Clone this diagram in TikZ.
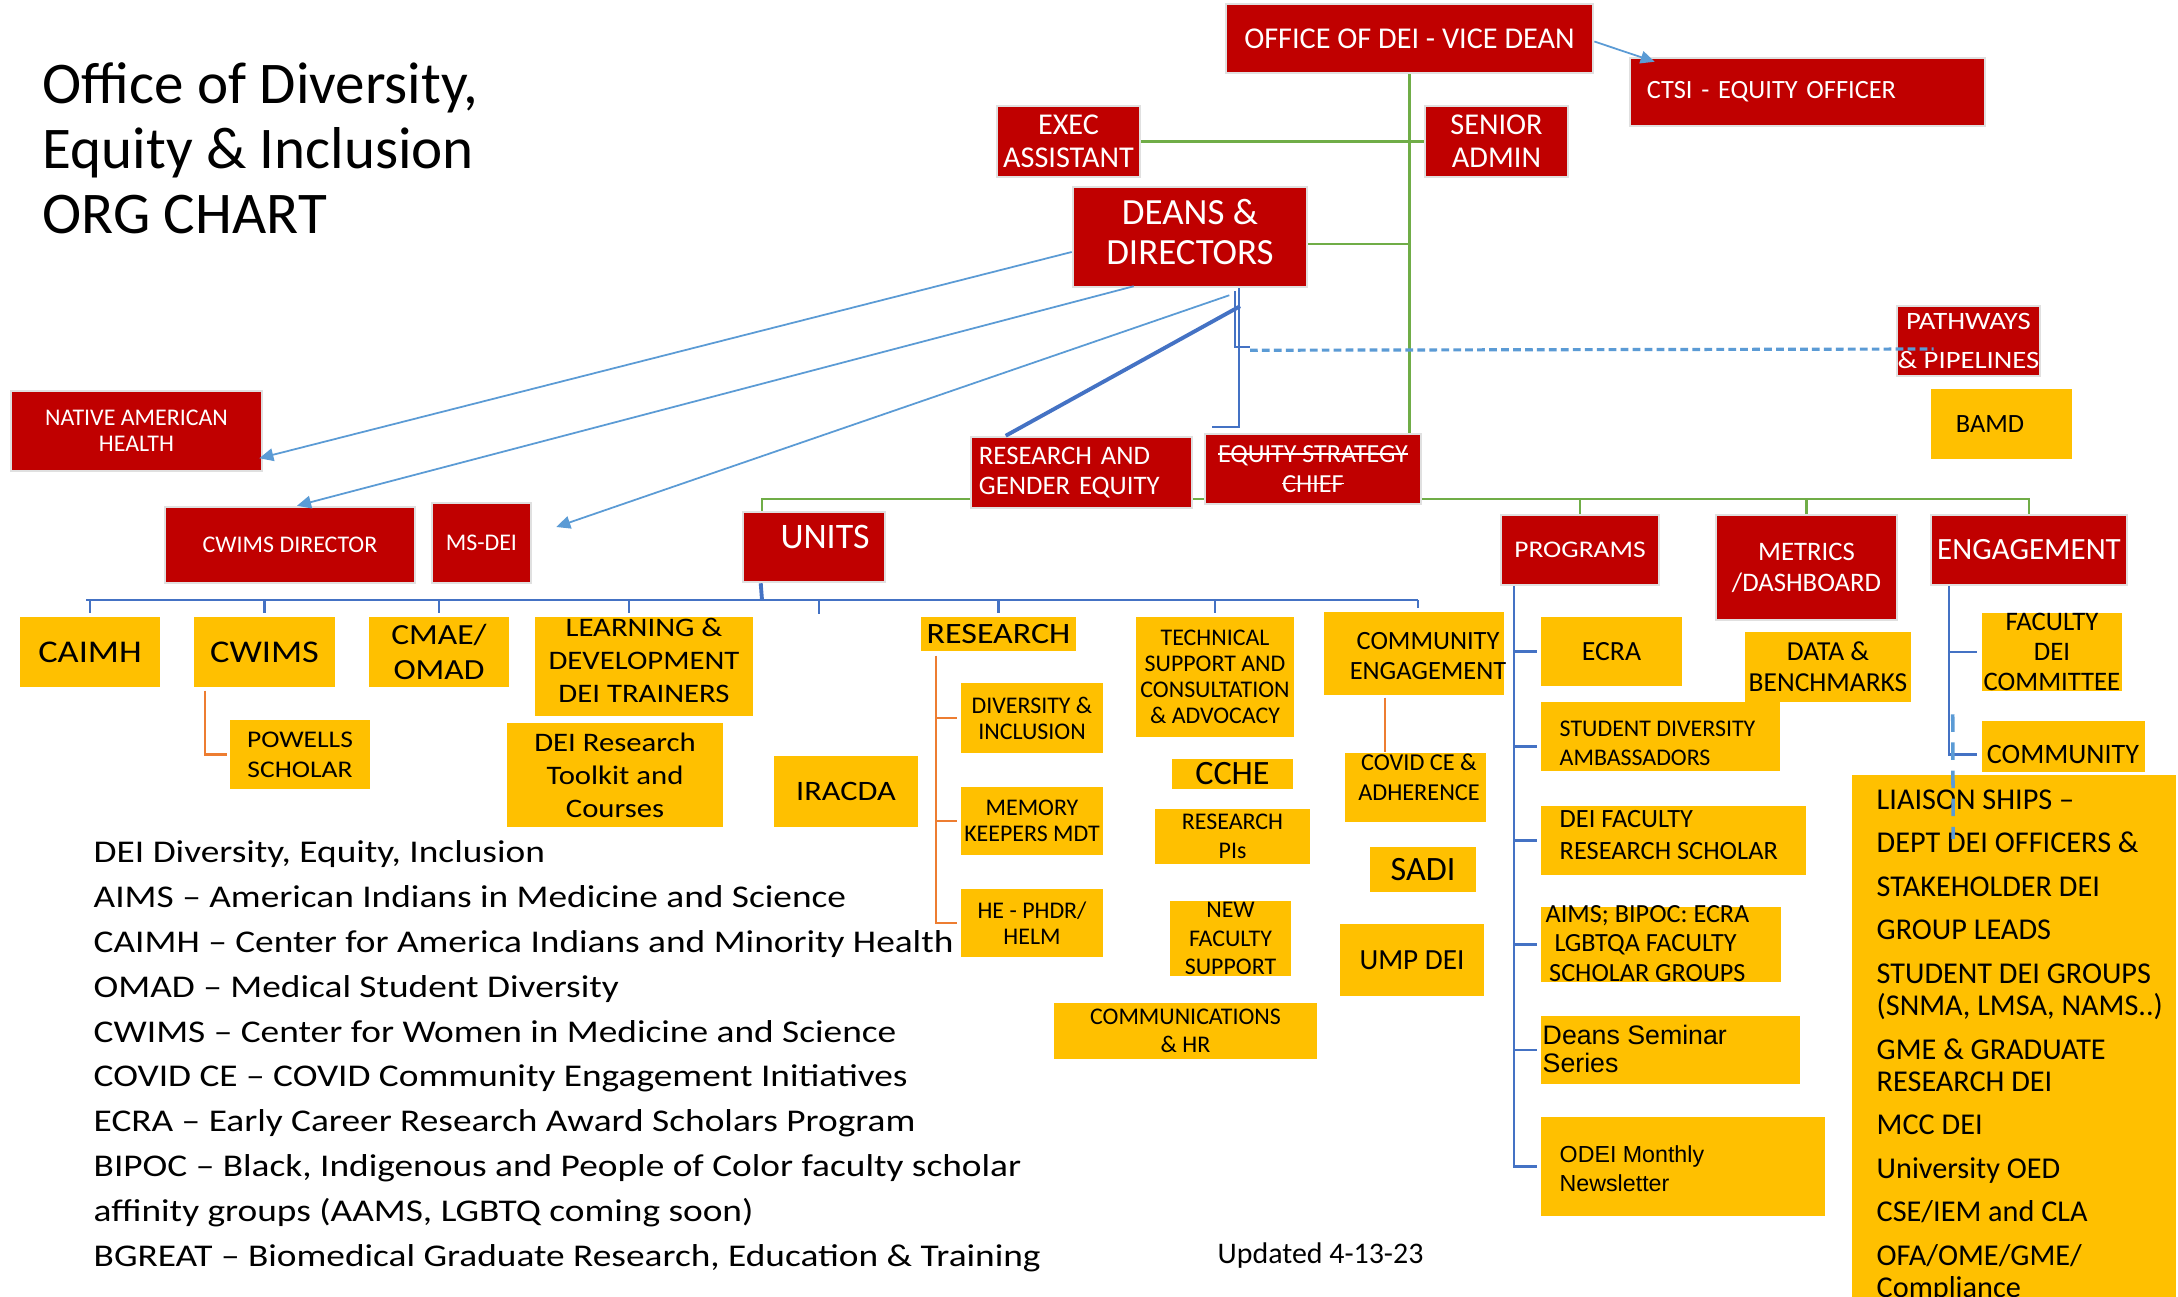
\documentclass[tikz,border=0pt]{standalone}
\usepackage{fontspec}
\setmainfont{Carlito}
\newfontfamily\arialf{Liberation Sans}
\newfontfamily\widefont[FakeStretch=1.15]{Carlito}
\newfontfamily\legfont[FakeStretch=1.18]{Carlito}
\newcommand\strk[1]{\setbox0\hbox{#1}\rlap{\rule[0.3em]{\wd0}{0.45pt}}\box0}
\usetikzlibrary{arrows.meta,calc}
\definecolor{dred}{HTML}{C00000}
\definecolor{gold}{HTML}{FFC000}
\definecolor{gline}{HTML}{70AD47}
\definecolor{dblue}{HTML}{4472C4}
\definecolor{lblue}{HTML}{5B9BD5}
\definecolor{oline}{HTML}{ED7D31}
\pgfdeclarelayer{bg}
\pgfsetlayers{bg,main}
\begin{document}
\begin{tikzpicture}[x=0.01cm,y=-0.01cm,
 redbox/.style={fill=dred, draw=black!12, line width=0.7pt, text=white, align=center, inner sep=0pt},
 yelbox/.style={fill=gold, draw=none, text=black, align=center, inner sep=0pt},
 pos box/.style n args={4}{at={({(#1+#3)/2},{(#2+#4)/2})}, minimum width={(#3-#1)*0.28453pt}, minimum height={(#4-#2)*0.28453pt}},
 fs/.style 2 args={font=\fontsize{#1}{#2}\selectfont},
 wfs/.style 2 args={font=\widefont\fontsize{#1}{#2}\selectfont},
 grn/.style={draw=gline, line width=0.7pt},
 blu/.style={draw=dblue, line width=0.7pt},
 org/.style={draw=oline, line width=0.7pt},
 arr/.style={draw=lblue, line width=0.5pt, -{Triangle[length=4pt,width=3.6pt]}},
 txt/.style={inner sep=0pt, align=center},
 ltxt/.style={inner sep=0pt, align=left, anchor=west},
]
\useasboundingbox (0,0) rectangle (2178,1297);
\begin{pgfonlayer}{bg}
\fill[white] (0,0) rectangle (2178,1297);
\end{pgfonlayer}

% title
\node[anchor=north west, inner sep=0pt, align=left, fs={16.8}{18.5}] (title) at (42,62) {Office of Diversity,\\Equity \& Inclusion\\ORG CHART};

% red boxes
\node[redbox, pos box={1226}{4}{1593}{73}, fs={8.6}{9}] (vd) {OFFICE OF DEI - VICE DEAN};
\node[redbox, pos box={1630}{58}{1985}{126}, fs={7.5}{8}, align=left, text width={321*0.28453pt}] (ctsi) {CTSI - EQUITY OFFICER};
\node[redbox, pos box={997}{106}{1140}{177}, fs={8.6}{9.4}] (exec) {EXEC\\ASSISTANT};
\node[redbox, pos box={1425}{106}{1568}{177}, fs={8.6}{9.4}] (senior) {SENIOR\\ADMIN};
\node[redbox, pos box={1073}{187}{1307}{287}] (dd) {};
\node[txt, text=white, fs={10.5}{11.6}] (ddt) at (1190,232) {DEANS \&\\DIRECTORS};
\node[redbox, pos box={1897}{306}{2040}{376}, wfs={7.1}{11}] (path) {PATHWAYS\\\& PIPELINES};
\node[redbox, pos box={11}{391}{262}{471}, fs={6.8}{7.4}] (nah) {NATIVE AMERICAN\\HEALTH};
\node[redbox, pos box={165}{507}{415}{583}, fs={6.8}{8}] (cwd) {CWIMS DIRECTOR};
\node[redbox, pos box={432}{503}{531}{583}, fs={6.8}{8}] (msdei) {MS-DEI};
\node[redbox, pos box={743}{512}{885}{582}] (units) {};
\node[txt, text=white, fs={10.2}{11}] (unitst) at (825,537) {UNITS};
\node[redbox, pos box={971}{437}{1192}{508}, fs={7.6}{8.5}, align=left, text width={205*0.28453pt}] (rge) {RESEARCH AND\\GENDER EQUITY};
\node[redbox, pos box={1205}{434}{1421}{504}, fs={7.4}{8.5}] (esc) {\strk{EQUITY STRATEGY}\\\strk{CHIEF}};
\node[redbox, pos box={1501}{515}{1659}{585}, wfs={6.8}{8}] (prog) {PROGRAMS};
\node[redbox, pos box={1716}{515}{1897}{620}, fs={7.6}{8.8}] (metrics) {METRICS\\/DASHBOARD};
\node[redbox, pos box={1931}{515}{2127}{585}, fs={8.8}{9}] (eng) {ENGAGEMENT};

% yellow boxes
\node[yelbox, pos box={1931}{389}{2072}{459}, fs={7.5}{8}, align=left, text width={91*0.28453pt}] (bamd) {BAMD};
\node[yelbox, pos box={20}{617}{160}{687}, wfs={9}{10}] (caimh) {CAIMH};
\node[yelbox, pos box={194}{617}{335}{687}, wfs={9}{10}] (cwims) {CWIMS};
\node[yelbox, pos box={369}{617}{509}{687}, wfs={8.3}{10.2}] (cmae) {CMAE/\\OMAD};
\node[yelbox, pos box={535}{617}{753}{716}] (learn) {};
\node[txt, wfs={7.6}{9.4}] (learnt) at (644,660.5) {LEARNING \&\\DEVELOPMENT\\DEI TRAINERS};
\node[yelbox, pos box={230}{720}{370}{789}, wfs={6.8}{8.5}] (powells) {POWELLS\\SCHOLAR};
\node[yelbox, pos box={507}{723}{723}{827}, wfs={7.6}{9.4}] (toolkit) {DEI Research\\Toolkit and\\Courses};
\node[yelbox, pos box={774}{756}{918}{827}, wfs={8}{9}] (iracda) {IRACDA};
\node[yelbox, pos box={921}{617}{1076}{651}, wfs={8.4}{10}] (research) {RESEARCH};
\node[yelbox, pos box={961}{683}{1103}{753}, fs={6.8}{7.4}] (divinc) {DIVERSITY \&\\INCLUSION};
\node[yelbox, pos box={961}{787}{1103}{855}, fs={6.8}{7.4}] (memory) {MEMORY\\KEEPERS MDT};
\node[yelbox, pos box={961}{889}{1103}{957}, fs={6.8}{7.4}] (he) {HE - PHDR/\\HELM};
\node[yelbox, pos box={1136}{617}{1294}{737}, fs={6.8}{7.4}] (tech) {TECHNICAL\\SUPPORT AND\\CONSULTATION\\\& ADVOCACY};
\node[yelbox, pos box={1172}{759}{1293}{789}, fs={9.7}{10}] (cche) {CCHE};
\node[yelbox, pos box={1155}{809}{1310}{864}, fs={6.8}{8.3}] (pis) {RESEARCH\\PIs};
\node[yelbox, pos box={1170}{901}{1291}{976}, fs={6.8}{8}] (newfac) {NEW\\FACULTY\\SUPPORT};
\node[yelbox, pos box={1054}{1003}{1317}{1059}, fs={6.8}{8}] (comm) {COMMUNICATIONS\\\& HR};
\node[yelbox, pos box={1324}{612}{1504}{695}] (ce) {};
\node[txt, fs={7.5}{8.5}] (cet) at (1428,656) {COMMUNITY\\ENGAGEMENT};
\node[yelbox, pos box={1345}{753}{1486}{822}] (covid) {};
\node[txt, fs={6.9}{8.5}] (covidt) at (1419,777) {COVID CE \&\\ADHERENCE};
\node[yelbox, pos box={1370}{847}{1476}{892}, fs={9.7}{10}] (sadi) {SADI};
\node[yelbox, pos box={1340}{924}{1484}{996}, fs={8.3}{9}] (ump) {UMP DEI};
\node[yelbox, pos box={1541}{617}{1682}{686}, fs={7.9}{9}] (ecra) {ECRA};
\node[yelbox, pos box={1745}{632}{1911}{702}, fs={7.8}{8.8}] (data) {DATA \&\\BENCHMARKS};
\node[yelbox, pos box={1541}{702}{1780}{771}] (sda) {};
\node[ltxt, fs={6.8}{8.2}] (sdat) at (1559,743.5) {STUDENT DIVERSITY\\AMBASSADORS};
\node[yelbox, pos box={1541}{806}{1806}{875}] (dfrs) {};
\node[ltxt, fs={7.5}{9.1}] (dfrst) at (1559,835) {DEI FACULTY\\RESEARCH SCHOLAR};
\node[yelbox, pos box={1541}{907}{1781}{982}] (aims) {};
\node[ltxt, fs={7.45}{8.4}] (aimst) at (1545,943.5) {AIMS; BIPOC: ECRA\\\hspace*{2.5pt}LGBTQA FACULTY\\\hspace*{1pt}SCHOLAR GROUPS};
\node[yelbox, pos box={1541}{1016}{1800}{1084}] (dss) {};
\node[ltxt, font=\arialf\fontsize{7.6}{8}\selectfont] (dsst) at (1542,1049) {Deans Seminar\\Series};
\node[yelbox, pos box={1541}{1117}{1825}{1216}] (odei) {};
\node[ltxt, font=\arialf\fontsize{6.6}{8.3}\selectfont] (odeit) at (1559,1168.5) {ODEI Monthly\\Newsletter};
\node[yelbox, pos box={1982}{617}{2122}{687}, fs={7.6}{8.5}] (fdc) {FACULTY\\DEI\\COMMITTEE};
\node[yelbox, pos box={1982}{721}{2145}{772}] (community) {};
\node[txt, fs={8}{9}] (communityt) at (2063,754) {COMMUNITY};
\node[yelbox, pos box={1852}{775}{2176}{1297}] (liaison) {};
\node[anchor=north west, inner sep=0pt, align=left, fs={8.6}{9.25}] (liat) at (1876,789) {LIAISON SHIPS –\\[3.1pt]DEPT DEI OFFICERS \&\\[3.1pt]STAKEHOLDER DEI\\[3.1pt]GROUP LEADS\\[3.1pt]STUDENT DEI GROUPS\\(SNMA, LMSA, NAMS..)\\[3.1pt]GME \& GRADUATE\\RESEARCH DEI\\[3.1pt]MCC DEI\\[3.1pt]University OED\\[3.1pt]CSE/IEM and CLA\\[3.1pt]OFA/OME/GME/\\Compliance};

% legend
\node[anchor=north west, inner sep=0pt, align=left, font=\legfont\fontsize{9}{12.75}\selectfont] (legend) at (93,840) {DEI Diversity, Equity, Inclusion\\AIMS – American Indians in Medicine and Science\\CAIMH – Center for America Indians and Minority Health\\OMAD – Medical Student Diversity\\CWIMS – Center for Women in Medicine and Science\\COVID CE – COVID Community Engagement Initiatives\\ECRA – Early Career Research Award Scholars Program\\BIPOC – Black, Indigenous and People of Color faculty scholar\\affinity groups (AAMS, LGBTQ coming soon)\\BGREAT – Biomedical Graduate Research, Education \& Training};
\node[ltxt, fs={8.5}{10}] (updated) at (1217,1256) {Updated 4-13-23};

% green connectors
\draw[grn] (vd.south) -- (vd.south |- esc.north);
\draw[grn] (exec.east) -- (senior.west);
\coordinate (dde) at ($(dd.east)+(0,7)$);
\draw[grn] (dde) -- (dde -| vd.south);
\coordinate (gbus) at (1409,499);
\coordinate (uanchor) at ($(units.north west)+(20,0)$);
\begin{pgfonlayer}{bg}
\draw[grn] (uanchor) |- (gbus) -| (eng.north);
\end{pgfonlayer}
\draw[grn] (gbus -| prog.north) -- (prog.north);
\draw[grn] (gbus -| metrics.north) -- (metrics.north);

% units bus
\coordinate (ubus) at (762,600);
\draw[blu, line width=1.1pt] ($(units.south west)+(19,0)$) -- (ubus);
\draw[blu] ($(caimh.north |- ubus)+(-4,0)$) -- ($(ce.north |- ubus)+(4,0)$);
\foreach \n in {caimh,cwims,cmae,research,tech} \draw[blu] (\n.north |- ubus) -- ($(\n.north)+(0,-3)$);
\coordinate (ced) at ($(ce.north)+(4,-3)$);
\draw[blu] (ced |- ubus) -- (ced);
\coordinate (lrnd) at ($(learn.north)+(-15,-3)$);
\draw[blu] (lrnd |- ubus) -- (lrnd);
\coordinate (edrop) at (819,614);
\draw[blu] (edrop |- ubus) -- (edrop);

% programs tree
\coordinate (pv) at ($(prog.south west)+(14,0)$);
\draw[blu] (pv) |- ($(odei.west)+(-3,0)$);
\foreach \n in {ecra,dfrs,aims,dss} \draw[blu] (pv |- \n.west) -- ($(\n.west)+(-3,0)$);
\coordinate (sdaw) at ($(sda.west)+(-3,10)$);
\draw[blu] (pv |- sdaw) -- (sdaw);

% engagement tree
\coordinate (ev) at ($(eng.south west)+(19,0)$);
\coordinate (cmw) at ($(community.west)+(-4,8)$);
\draw[blu] (ev) |- (cmw);
\draw[blu] (ev |- fdc.west) -- ($(fdc.west)+(-4,0)$);
\coordinate (dv1) at ($(ev)+(4,128)$);
\coordinate (dv2) at ($(liaison.north west)+(102,65)$);
\draw[lblue, line width=1pt, dash pattern=on 5pt off 3pt] (dv1) -- (dv2);

% orange trees
\coordinate (cwo) at ($(cwims.south west)+(12,3)$);
\draw[org] (cwo) |- ($(powells.west)+(-2,0)$);
\coordinate (ro) at ($(research.south west)+(16,4)$);
\draw[org] (ro) |- ($(he.west)+(-3,0)$);
\draw[org] (ro |- divinc.west) -- ($(divinc.west)+(-3,0)$);
\draw[org] (ro |- memory.west) -- ($(memory.west)+(-3,0)$);
\coordinate (ceo) at ($(ce.south west)+(62,2)$);
\draw[org] (ceo) -- (ceo |- covid.north);

% deans & directors connectors
\coordinate (dd1) at ($(dd.south)+(49,0)$);
\coordinate (dd2) at ($(dd.south)+(45,3)$);
\coordinate (escin) at ($(esc.north west)+(8,-6)$);
\draw[blu] (dd1) |- (escin);
\draw[blu] (dd2) -- ++(0,56) -- ++(15,0);
\draw[lblue, line width=0.9pt, dash pattern=on 2.2pt off 1.2pt] ($(dd2)+(15,59)$) -- ($(path.west)+(38,8)$);
\draw[blu, line width=1.1pt] ($(dd1)+(1,18)$) -- ($(rge.north west)+(36,0)$);

% light blue arrows
\draw[arr] ($(dd.west)+(0,15)$) -- ($(nah.south east)+(-4,-14)$);
\draw[arr] ($(dd.south west)+(62,-2)$) -- ($(cwd.north)+(7,0)$);
\draw[arr] ($(dd.south east)+(-79,7)$) -- ($(msdei.east)+(24,-16)$);
\draw[arr] ($(vd.east)+(0,3)$) -- ($(ctsi.north west)+(26,5)$);
\end{tikzpicture}
\end{document}
